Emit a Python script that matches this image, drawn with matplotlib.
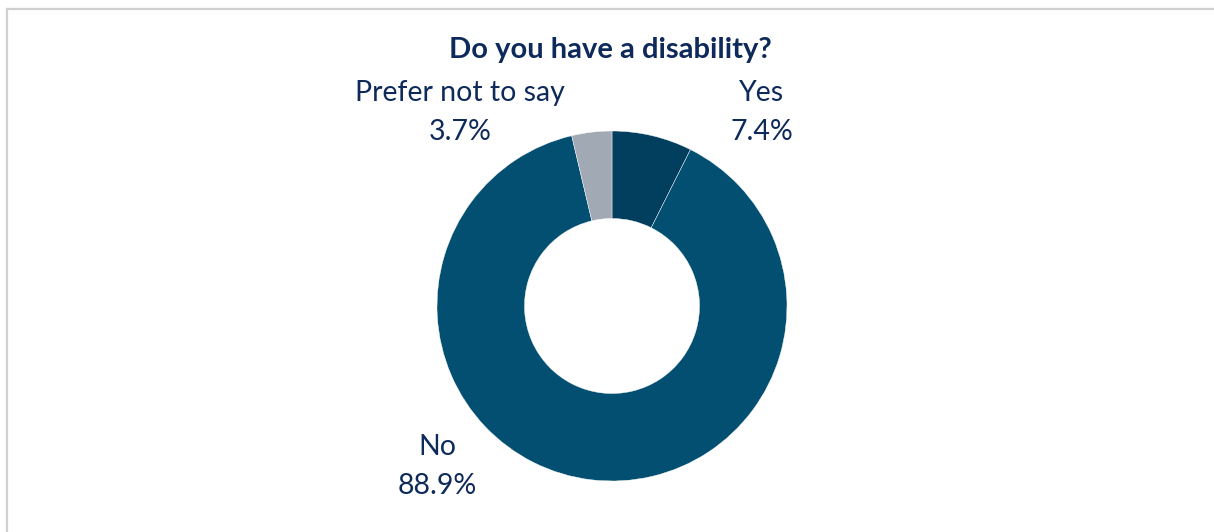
import matplotlib
matplotlib.use("Agg")
import matplotlib.pyplot as plt
from matplotlib.lines import Line2D

# data
categories = ["Yes", "No", "Prefer not to say"]
values = [7.4, 88.9, 3.7]
colors = ["#023F5E", "#034F72", "#A1A9B5"]
title = "Do you have a disability?"
text_color = "#0E2A5A"

plt.rcParams["font.family"] = ["Lato", "DejaVu Sans"]

W, H = 1214, 532
fig = plt.figure(figsize=(W / 100, H / 100), dpi=100)

# frame lines (top and left) like the screenshot
fig.add_artist(Line2D([7 / W, 7 / W], [0, 1 - 9 / H], color="#D0D0D0", lw=1.6))
fig.add_artist(Line2D([7 / W, 1], [1 - 9 / H, 1 - 9 / H], color="#D0D0D0", lw=1.6))

cx, cy, r = 612, 306, 175
ax = fig.add_axes([(cx - r) / W, (H - cy - r) / H, 2 * r / W, 2 * r / H])
ax.pie(values, colors=colors, startangle=90, counterclock=False,
       wedgeprops=dict(width=0.5, edgecolor="white", linewidth=0.3))
ax.set_xlim(-1, 1)
ax.set_ylim(-1, 1)
ax.set_aspect("equal")
ax.axis("off")

fig.text(610 / W, 1 - 50 / H, title, ha="center", va="center",
         fontsize=21, fontweight="bold", color=text_color)

# label positions in pixels (x, y of name line)
label_pos = {"Yes": (762, 93), "No": (437, 447), "Prefer not to say": (460, 93)}
for cat, val in zip(categories, values):
    x, y = label_pos[cat]
    fig.text(x / W, 1 - y / H, cat, ha="center", va="center",
             fontsize=20.5, color=text_color)
    fig.text(x / W, 1 - (y + 39) / H, f"{val:.1f}%", ha="center", va="center",
             fontsize=20.5, color=text_color)

fig.savefig("out.png", dpi=100, facecolor="white")
